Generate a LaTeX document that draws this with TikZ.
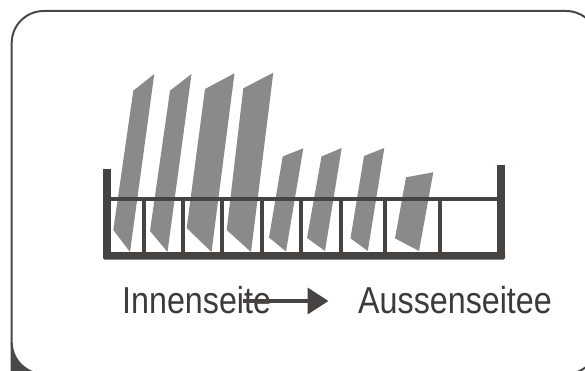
\documentclass[tikz,border=0pt]{standalone}
\usepackage{fontspec}
\setmainfont{Liberation Sans}
\usetikzlibrary{arrows.meta}
\definecolor{rackcol}{HTML}{474341}
\definecolor{platecol}{HTML}{8A8A8A}
\definecolor{framecol}{HTML}{4A4747}
\definecolor{textcol}{HTML}{3E3A3A}
\tikzset{
  rackbar/.style={fill=rackcol, draw=none},
  plate/.style={fill=platecol, draw=none},
  framebox/.style={draw=framecol, line width=2pt, rounded corners=32pt},
  label/.style={inner sep=0pt, anchor=base west, text=textcol, font=\fontsize{37.5}{40}\selectfont},
  flowarrow/.style={draw=rackcol, line width=4pt, -{Triangle[length=21pt,width=26pt]}}
}
\begin{document}
\begin{tikzpicture}[x=1pt,y=-1pt]
\useasboundingbox (0,0) rectangle (585,371);
\clip (0,0) rectangle (585,371);
% frame
\draw[framebox] (11.7,11) rectangle (598,374);
\fill[framecol] (10.7,342) .. controls (12.5,358) and (20,367) .. (31,371.5) -- (10.7,371.5) -- cycle;
% plates
\fill[plate] (133.3,90.7) -- (154.3,74) -- (130,252) -- (113.3,230) -- cycle;
\fill[plate] (170,90.7) -- (191.5,74) -- (167.5,252) -- (150,231) -- cycle;
\fill[plate] (205,89) -- (234.5,73.3) -- (211.5,252) -- (186.7,228) -- cycle;
\fill[plate] (243.3,88.3) -- (273.3,72.7) -- (251,252) -- (226.7,230) -- cycle;
\fill[plate] (282.7,156.5) -- (303.3,148.3) -- (286,251.5) -- (269,237.5) -- cycle;
\fill[plate] (321.5,156.5) -- (341.7,148) -- (325,251) -- (307,238) -- cycle;
\fill[plate] (364,156) -- (384.3,148) -- (367.8,251) -- (350.5,238.3) -- cycle;
\fill[plate] (406,177.3) -- (433.3,172.3) -- (419,251) -- (395,238.3) -- cycle;
% rack
\fill[rackbar] (103,169) rectangle (111,258);
\fill[rackbar] (497,165) rectangle (505,258);
\fill[rackbar, rounded corners=1.5pt] (103,252) rectangle (505,259.6);
\fill[rackbar] (111,196.8) rectangle (497,201.2);
\foreach \cx in {143.7,182.8,222,262,301.3,341,384.7,439.7}
  \fill[rackbar] (\cx-2,201) rectangle (\cx+2,252.5);
% labels
\node[label] (inner) at (122,313) {\scalebox{0.86}[1]{Innenseite}};
\node[label] (outer) at (358,313) {\scalebox{0.86}[1]{Aussenseitee}};
\coordinate (astart) at (243,301);
\coordinate (aend) at (328.5,301);
\draw[flowarrow] (astart) -- (aend);
\end{tikzpicture}
\end{document}
